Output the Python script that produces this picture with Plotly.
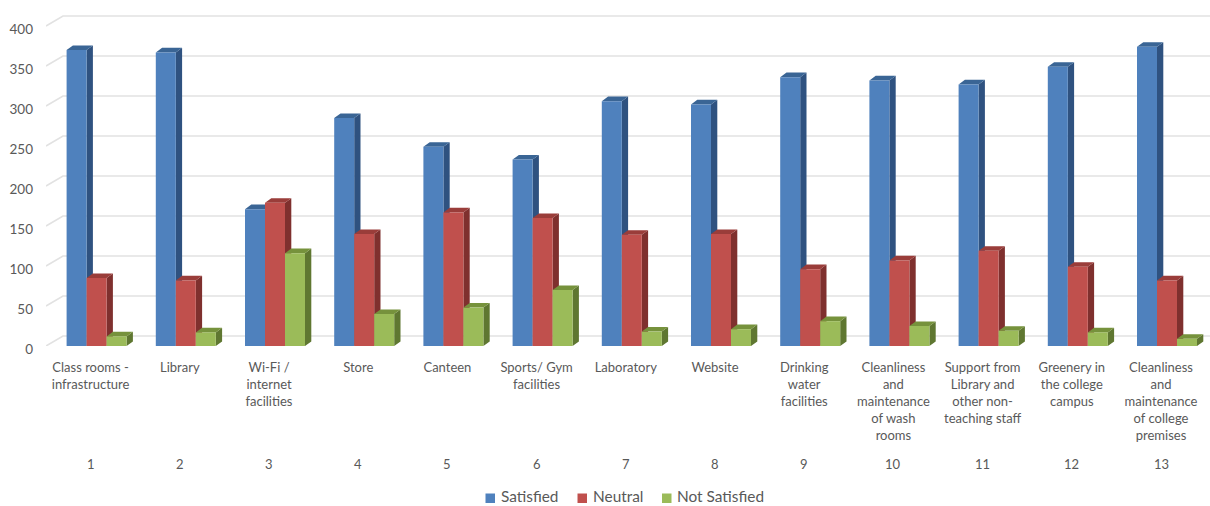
import plotly.graph_objects as go

categories = ["Class rooms -<br>infrastructure", "Library", "Wi-Fi /<br>internet<br>facilities", "Store", "Canteen",
              "Sports/ Gym<br>facilities", "Laboratory", "Website", "Drinking<br>water<br>facilities",
              "Cleanliness<br>and<br>maintenance<br>of wash<br>rooms",
              "Support from<br>Library and<br>other non-<br>teaching staff",
              "Greenery in<br>the college<br>campus",
              "Cleanliness<br>and<br>maintenance<br>of college<br>premises"]
numbers = list(range(1, 14))
satisfied = [370, 367, 171, 285, 249, 233, 306, 302, 336, 332, 327, 349, 374]
neutral = [85, 82, 179, 140, 167, 160, 139, 140, 96, 107, 119, 99, 82]
not_satisfied = [12, 17, 116, 40, 48, 70, 18, 21, 31, 25, 19, 17, 9]
y_ticks = list(range(0, 401, 50))

PX_X = 89.2          # pixels per category
PX_Y = 0.8           # pixels per value unit
L, T, B = 46, 6, 160
W, H = 1210, 506
PW, PH = W - L, H - T - B
x_range = [0.5, 0.5 + PW / PX_X]
y_range = [0, PH / PX_Y]
wall_dx, wall_dy = 17 / PX_X, 10 / PX_Y
depth_dx, depth_dy = 6.3 / PX_X, 4.6 / PX_Y
bar_w = 20 / PX_X
shift0 = 6 / PX_X

series = [
    ("Satisfied", satisfied, "#4F81BD", "#2F5280", "#3A6595", -1, 485.5),
    ("Neutral", neutral, "#C0504D", "#7F302E", "#9A3D3A", 0, 577.5),
    ("Not Satisfied", not_satisfied, "#9BBB59", "#5F7731", "#76923C", 1, 662),
]
GREY = "#595959"
FONT = "Lato"


def px_x(p):
    return (p - L) / PW


def px_y(p):
    return 1 - (p - T) / PH


fig = go.Figure()

# back wall and floor lines, derived from the value axis ticks
gx, gy = [], []
for v in y_ticks:
    gx += [x_range[0], x_range[0] + wall_dx, x_range[1], None]
    gy += [v, v + wall_dy, v + wall_dy, None]
fig.add_trace(go.Scatter(x=gx, y=gy, mode="lines", line=dict(color="#E2E2E2", width=1.6),
                         hoverinfo="skip", showlegend=False, zorder=0))

z = 1
for name, vals, col, side, top, pos, key_px in series:
    lefts = [n + shift0 + (pos - 0.5) * bar_w for n in numbers]
    sx, sy, tx, ty = [], [], [], []
    for xl, v in zip(lefts, vals):
        xr = xl + bar_w
        sx += [xr, xr + depth_dx, xr + depth_dx, xr, xr, None]
        sy += [0, depth_dy, v + depth_dy, v, 0, None]
        tx += [xl, xl + depth_dx, xr + depth_dx, xr, xl, None]
        ty += [v, v + depth_dy, v + depth_dy, v, v, None]
    fig.add_trace(go.Scatter(x=sx, y=sy, mode="lines", fill="toself", fillcolor=side, line=dict(width=0, color=side),
                             hoverinfo="skip", showlegend=False, zorder=z))
    fig.add_trace(go.Scatter(x=tx, y=ty, mode="lines", fill="toself", fillcolor=top, line=dict(width=0, color=top),
                             hoverinfo="skip", showlegend=False, zorder=z))
    fig.add_trace(go.Bar(x=numbers, y=vals, name=name, width=bar_w, offset=shift0 + (pos - 0.5) * bar_w,
                         marker=dict(color=col, line=dict(width=0)), zorder=z + 1, showlegend=False))
    z += 2
    # legend key and label
    fig.add_shape(type="rect", xref="paper", yref="paper", x0=px_x(key_px), x1=px_x(key_px + 9.5),
                  y0=px_y(503), y1=px_y(493.5), fillcolor=col, line=dict(width=0))
    fig.add_annotation(xref="paper", yref="paper", x=px_x(key_px + 14), y=px_y(495.5), xanchor="left", yanchor="middle",
                       showarrow=False, text=name, borderpad=0,
                       font=dict(family=FONT, size=15.4, color=GREY))

for n in numbers:
    fig.add_annotation(x=n, xref="x", y=px_y(464), yref="paper", yanchor="middle", showarrow=False,
                       text=str(n), font=dict(family=FONT, size=13, color=GREY))

fig.update_layout(
    width=W, height=H, margin=dict(l=L, r=0, t=T, b=B, pad=0), paper_bgcolor="white", plot_bgcolor="white",
    barmode="overlay", hovermode=False, showlegend=False,
    xaxis=dict(range=x_range, tickmode="array", tickvals=numbers, ticktext=categories, showgrid=False, zeroline=False,
               showline=False, ticks="", tickangle=0, ticklabelstandoff=12,
               tickfont=dict(family=FONT, size=13, color=GREY)),
    yaxis=dict(range=y_range, tickmode="array", tickvals=y_ticks, showgrid=False, zeroline=False, showline=False,
               ticks="", ticklabelstandoff=12, ticklabelshift=3,
               tickfont=dict(family=FONT, size=13.5, color=GREY)),
)
fig.write_html("out.html", config=dict(displayModeBar=False), post_script="document.body.style.margin='0';")
